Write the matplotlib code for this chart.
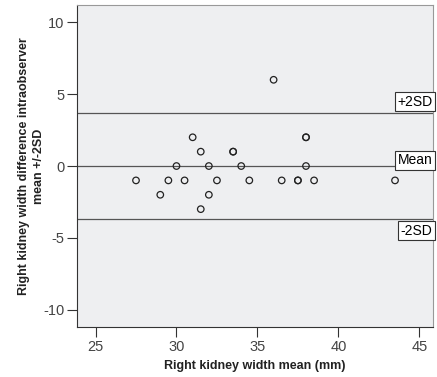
import matplotlib
matplotlib.use("Agg")
import matplotlib.pyplot as plt

# Bland-Altman style data: mean width vs intraobserver difference
width_mean = [36.0,
              31.0, 38.0, 38.0,
              31.5, 33.5, 33.5,
              30.0, 32.0, 34.0, 38.0,
              27.5, 29.5, 30.5, 32.5, 34.5, 36.5, 37.5, 37.5, 38.5, 43.5,
              29.0, 32.0,
              31.5]
width_diff = [6,
              2, 2, 2,
              1, 1, 1,
              0, 0, 0, 0,
              -1, -1, -1, -1, -1, -1, -1, -1, -1, -1,
              -2, -2,
              -3]

mean_diff = 0.0
upper_sd = 3.7
lower_sd = -3.7

plt.rcParams['font.family'] = ['Liberation Sans', 'DejaVu Sans']
plt.rcParams['axes.unicode_minus'] = False

fig = plt.figure(figsize=(4.37, 3.77), dpi=100)
ax = fig.add_axes([0.176, 0.1326, 0.815, 0.854])
ax.set_facecolor('#eeeff1')

ax.scatter(width_mean, width_diff, s=22, facecolors='none',
           edgecolors='#222222', linewidths=0.9, zorder=3)

for val in (upper_sd, mean_diff, lower_sd):
    ax.axhline(val, color='#555555', linewidth=0.9, zorder=2)

box = dict(boxstyle='square,pad=0.18', facecolor='white', edgecolor='#333333', linewidth=0.8)
ax.text(45.82, upper_sd + 0.3, '+2SD', ha='right', va='bottom', fontsize=10, bbox=box, zorder=4)
ax.text(45.82, mean_diff + 0.4, 'Mean', ha='right', va='center', fontsize=10, bbox=box, zorder=4)
ax.text(45.82, lower_sd - 0.3, '-2SD', ha='right', va='top', fontsize=10, bbox=box, zorder=4)

ax.set_xlim(23.85, 45.85)
ax.set_ylim(-11.2, 11.2)
ax.set_xticks([25, 30, 35, 40, 45])
ax.set_yticks([-10, -5, 0, 5, 10])
ax.tick_params(direction='out', length=7, width=0.8, pad=2, color='#333333',
               labelcolor='#444444', labelsize=10.5)

for side in ('left', 'bottom'):
    ax.spines[side].set_color('#333333')
for side in ('top', 'right'):
    ax.spines[side].set_color('#999999')

ax.set_xlabel('Right kidney width mean (mm)', fontsize=9, fontweight='bold',
              color='#222222', labelpad=5)
ax.set_ylabel('Right kidney width difference intraobserver\nmean +/-2SD', fontsize=9,
              fontweight='bold', color='#222222', linespacing=1.3, labelpad=-1)

fig.savefig('out.png', dpi=100)
